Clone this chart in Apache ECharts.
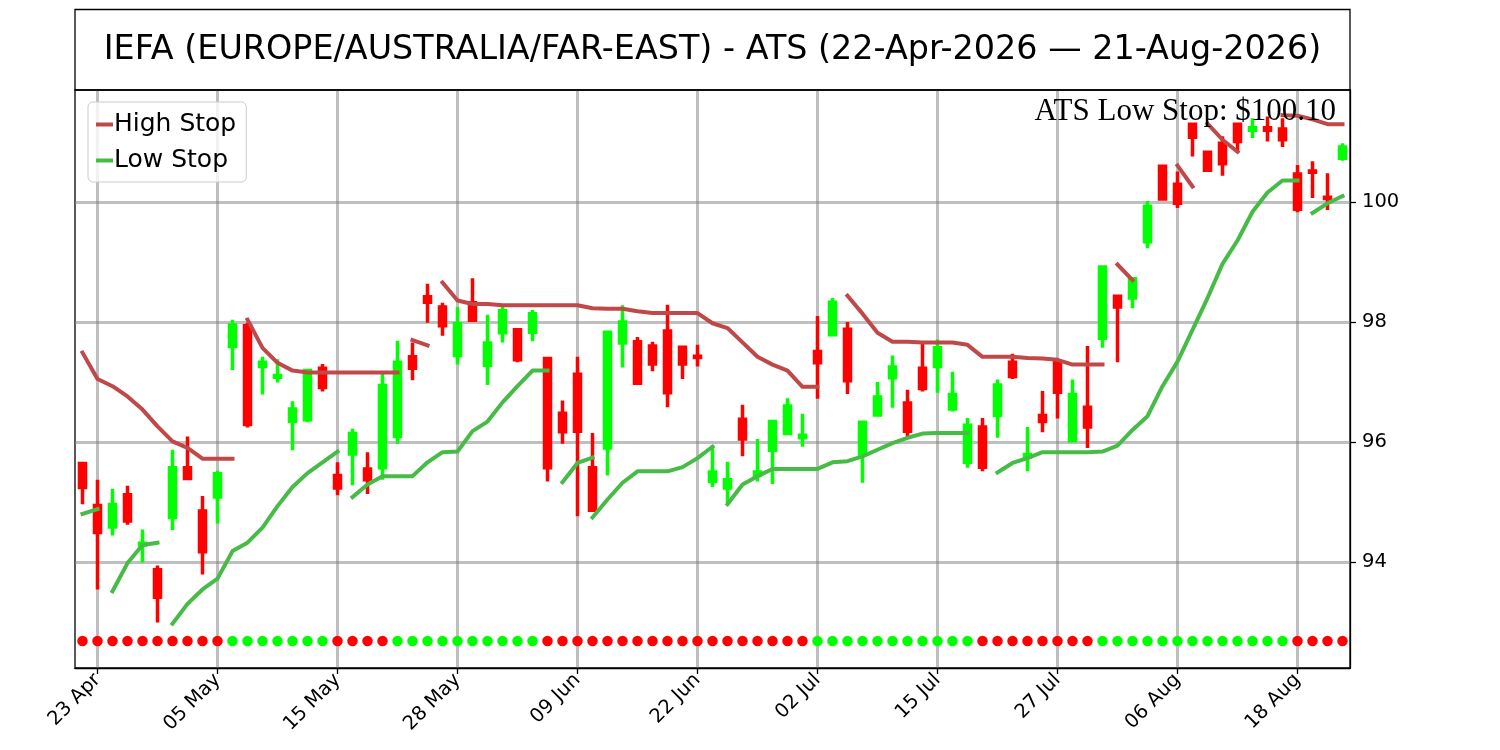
<!DOCTYPE html>
<html>
<head>
<meta charset="utf-8">
<script src="https://cdn.jsdelivr.net/npm/echarts@6/dist/echarts.min.js"></script>
<style>
html,body{margin:0;padding:0;background:#fff;}
#chart{width:1500px;height:750px;}
</style>
</head>
<body>
<div id="chart"></div>
<script>
const categories = ['22 Apr','23 Apr','24 Apr','27 Apr','28 Apr','29 Apr','30 Apr',
'01 May','04 May','05 May','06 May','07 May','08 May','11 May','12 May','13 May','14 May','15 May','18 May','19 May','20 May','21 May','22 May','26 May','27 May','28 May','29 May',
'01 Jun','02 Jun','03 Jun','04 Jun','05 Jun','08 Jun','09 Jun','10 Jun','11 Jun','12 Jun','15 Jun','16 Jun','17 Jun','18 Jun','22 Jun','23 Jun','24 Jun','25 Jun','26 Jun','29 Jun','30 Jun',
'01 Jul','02 Jul','06 Jul','07 Jul','08 Jul','09 Jul','10 Jul','13 Jul','14 Jul','15 Jul','16 Jul','17 Jul','20 Jul','21 Jul','22 Jul','23 Jul','24 Jul','27 Jul','28 Jul','29 Jul','30 Jul','31 Jul',
'03 Aug','04 Aug','05 Aug','06 Aug','07 Aug','10 Aug','11 Aug','12 Aug','13 Aug','14 Aug','17 Aug','18 Aug','19 Aug','20 Aug','21 Aug'];

const xTickLabels = ['23 Apr','05 May','15 May','28 May','09 Jun','22 Jun','02 Jul','15 Jul','27 Jul','06 Aug','18 Aug'];
const yTickValues = [94, 96, 98, 100];

const opens = [95.64,94.94,94.58,95.12,94.28,93.87,94.74,95.57,94.85,95.08,
97.59,97.94,97.26,97.08,96.34,96.37,97.23,95.44,95.80,95.55,
95.57,96.09,97.42,98.42,98.25,97.44,98.32,97.28,97.82,97.87,
97.83,97.39,96.48,97.13,95.57,95.90,97.65,97.67,97.60,97.85,
97.58,97.43,95.34,95.23,96.38,95.44,95.86,96.14,96.07,97.51,
97.79,97.88,95.80,96.45,97.07,96.65,97.23,97.26,96.55,95.66,
96.25,96.44,97.33,95.75,96.44,97.32,96.02,96.58,97.73,98.43,
98.40,99.34,100.60,100.30,101.30,100.83,100.98,101.30,101.20,101.24,
101.22,100.47,100.52,100.08,100.73];
const closes = [95.24,94.49,94.955,94.68,94.31,93.41,95.57,95.39,94.17,95.47,
97.95,96.29,97.33,97.11,96.55,97.19,96.91,95.23,96.14,95.37,
96.94,97.33,97.23,98.33,97.94,97.97,98.03,97.65,98.19,97.37,
98.14,95.57,96.17,96.18,94.86,97.83,98.00,96.98,97.30,96.82,
97.30,97.41,95.50,95.37,96.05,95.50,96.34,96.60,96.11,97.32,
98.33,97.02,96.33,96.75,97.25,96.18,96.89,97.57,96.79,96.28,
95.58,96.95,97.09,95.79,96.34,96.83,96.79,96.25,98.92,98.25,
98.72,99.93,100.05,99.98,101.08,100.53,100.64,101.01,101.24,101.20,
101.04,99.88,100.50,100.06,100.92];
const lows = [94.96,93.54,94.44,94.62,93.99,92.99,94.53,95.37,93.79,94.64,
97.20,96.24,96.79,96.99,95.86,96.33,96.84,95.11,95.28,95.13,
95.37,95.97,97.03,97.99,97.77,97.29,98.02,96.95,97.66,97.33,
97.68,95.34,95.97,94.76,94.84,95.44,97.24,96.97,97.18,96.58,
97.05,97.26,95.25,94.98,95.76,95.34,95.30,96.11,95.92,96.72,
97.78,96.80,95.32,96.45,96.57,96.07,96.84,96.82,96.51,95.57,
95.51,96.07,97.05,95.51,96.16,96.39,96.01,95.90,97.57,97.33,
98.23,99.23,100.04,99.90,100.76,100.52,100.44,100.82,101.07,101.01,
100.92,99.83,100.07,99.87,100.69];
const highs = [95.65,95.37,95.22,95.27,94.54,93.94,95.87,96.09,95.10,95.52,
98.04,97.99,97.42,97.38,96.68,97.20,97.30,95.66,96.22,95.83,
97.15,97.69,97.66,98.64,98.32,98.25,98.73,98.12,98.29,97.88,
98.20,97.40,96.69,97.42,96.15,97.86,98.28,97.75,97.67,98.29,
97.60,97.62,95.95,95.67,96.62,96.05,96.35,96.73,96.47,98.10,
98.40,98.00,96.35,97.00,97.44,96.87,97.65,97.71,97.17,96.40,
96.40,97.04,97.47,96.25,96.85,97.34,97.04,97.60,98.94,98.45,
98.75,100.02,100.61,100.51,101.31,100.85,101.10,101.33,101.40,101.43,
101.40,100.62,100.68,100.48,100.98];

// 1 = up trend (green dot), -1 = down trend (red dot)
const trend = [-1,-1,-1,-1,-1,-1,-1,-1,-1,-1,
1,1,1,1,1,1,1,
-1,-1,-1,-1,
1,1,1,1,1,1,1,1,1,1,
-1,-1,-1,-1,-1,-1,-1,-1,-1,-1,-1,-1,-1,-1,-1,-1,-1,-1,
1,1,1,1,1,1,1,1,1,1,1,
-1,-1,-1,-1,-1,-1,-1,-1,
1,1,1,1,1,1,1,1,1,1,1,1,1,
-1,-1,-1,-1];
const trendDotLevel = 92.68;

const highStopSegments = [
  ['22 Apr', [97.49,97.05,96.93,96.76,96.54,96.26,96.01,95.90,95.72,95.72,95.72]],
  ['07 May', [98.04,97.57,97.32,97.19,97.16,97.16,97.16,97.16,97.16,97.16,97.16]],
  ['22 May', [97.70,97.61]],
  ['27 May', [98.66,98.36,98.30,98.30,98.28,98.28,98.28,98.28,98.28,98.28,98.23,98.22,98.22,98.18,98.15,98.15,98.15,98.15,97.98,97.90,97.66,97.42,97.29,97.19,96.92,96.92]],
  ['07 Jul', [98.44,98.14,97.82,97.67,97.67,97.66,97.66,97.66,97.62,97.42,97.42,97.42,97.40,97.39,97.37,97.29,97.29,97.29]],
  ['31 Jul', [98.96,98.70]],
  ['06 Aug', [100.61,100.26]],
  ['10 Aug', [101.31,101.04,100.84]],
  ['17 Aug', [101.45,101.44,101.38,101.30,101.30]]
];
const lowStopSegments = [
  ['22 Apr', [94.80,94.88]],
  ['24 Apr', [93.51,93.98,94.28,94.32]],
  ['30 Apr', [92.97,93.30,93.54,93.72,94.18,94.32,94.57,94.93,95.25,95.48,95.66,95.84]],
  ['18 May', [95.08,95.29,95.43,95.43,95.43,95.66,95.83,95.84,96.18,96.34,96.66,96.93,97.19,97.19]],
  ['08 Jun', [95.33,95.65,95.74]],
  ['10 Jun', [94.74,95.04,95.32,95.51,95.51,95.51,95.58,95.73,95.92]],
  ['24 Jun', [94.96,95.29,95.43,95.55,95.55,95.55,95.55,95.66,95.68,95.76,95.87,95.98,96.07,96.14,96.15,96.15,96.15]],
  ['21 Jul', [95.49,95.65,95.73,95.83,95.83,95.83,95.83,95.84,95.94,96.20,96.43,96.93,97.34,97.87,98.40,98.97,99.36,99.84,100.16,100.36,100.36]],
  ['19 Aug', [99.82,99.98,100.10]]
];

const titleText = 'IEFA (EUROPE/AUSTRALIA/FAR-EAST) - ATS (22-Apr-2026 \u2014 21-Aug-2026)';
const annotationText = 'ATS Low Stop: $100.10';

const UP = '#00ff00', DOWN = '#ff0000';
const HIGH_COLOR = '#c04848', LOW_COLOR = '#46bb46';
const GRID_COLOR = 'rgba(128,128,128,0.5)';

function segData(segs) {
  const out = [];
  segs.forEach(function (seg, k) {
    const s = categories.indexOf(seg[0]);
    if (k > 0) out.push([s, '-']);
    seg[1].forEach(function (v, j) { out.push([s + j, v]); });
  });
  return out;
}

const candleData = categories.map(function (c, i) {
  return [opens[i], closes[i], lows[i], highs[i]];
});
const dotData = categories.map(function (c, i) {
  return { value: [i, trendDotLevel], itemStyle: { color: trend[i] > 0 ? UP : DOWN, opacity: 1 } };
});
const isTick = function (idx, val) { return xTickLabels.indexOf(val) >= 0; };

const chart = echarts.init(document.getElementById('chart'), null, { renderer: 'canvas' });
chart.setOption({
  animation: false,
  backgroundColor: '#fff',
  textStyle: { fontFamily: 'DejaVu Sans' },
  graphic: [
    { type: 'rect', shape: { x: 75, y: 9.5, width: 1275, height: 80.5 },
      style: { fill: 'none', stroke: '#000', lineWidth: 1.3 }, z: 10 },
    { type: 'text', x: 712.5, y: 50,
      style: { text: titleText, fill: '#000', font: '33.4px "DejaVu Sans"', align: 'center', verticalAlign: 'middle', textAlign: 'center', textVerticalAlign: 'middle' }, z: 10 },
    { type: 'text', x: 1336, y: 112,
      style: { text: annotationText, fill: '#000', font: '31px "Liberation Serif"', align: 'right', verticalAlign: 'middle', textAlign: 'right', textVerticalAlign: 'middle' }, z: 10 }
  ],
  legend: {
    data: ['High Stop', 'Low Stop'],
    orient: 'vertical',
    left: 88, top: 102,
    icon: 'rect',
    itemWidth: 17, itemHeight: 4,
    itemGap: 11,
    padding: [10, 10, 9, 8],
    backgroundColor: 'rgba(255,255,255,0.8)',
    borderColor: '#cccccc', borderWidth: 1, borderRadius: 5,
    textStyle: { fontSize: 25, lineHeight: 25, color: '#000', fontFamily: 'DejaVu Sans', padding: [0, 0, 0, -4] },
    z: 20
  },
  grid: {
    left: 75, right: 150, top: 90, bottom: 82,
    show: true, borderColor: '#000', borderWidth: 1.3, backgroundColor: 'transparent'
  },
  xAxis: {
    type: 'category',
    data: categories,
    boundaryGap: true,
    axisLine: { show: true, lineStyle: { color: '#000', width: 1.3 } },
    axisTick: { show: true, alignWithLabel: true, interval: isTick, length: 6, lineStyle: { color: '#000', width: 1.3 } },
    axisLabel: { show: true, interval: isTick, rotate: 45, fontSize: 19.5, color: '#000', fontFamily: 'DejaVu Sans', margin: 9 },
    splitLine: { show: true, interval: isTick, alignWithLabel: true, lineStyle: { color: GRID_COLOR, width: 3 } }
  },
  yAxis: {
    type: 'value',
    position: 'right',
    min: 92.23, max: 101.87,
    axisLine: { show: true, lineStyle: { color: '#000', width: 1.3 } },
    axisTick: { show: true, customValues: yTickValues, length: 6, lineStyle: { color: '#000', width: 1.3 } },
    axisLabel: { show: true, customValues: yTickValues, fontSize: 19.5, color: '#000', fontFamily: 'DejaVu Sans', margin: 12 },
    splitLine: { show: true, lineStyle: { color: GRID_COLOR, width: 3 } }
  },
  series: [
    {
      name: 'Trend', type: 'scatter', data: dotData, symbolSize: 10.5, z: 2, silent: true,
      itemStyle: { opacity: 1 }
    },
    {
      name: 'IEFA', type: 'candlestick', data: candleData, barWidth: 7, z: 3,
      itemStyle: { color: UP, color0: DOWN, borderColor: UP, borderColor0: DOWN, borderWidth: 3.5 }
    },
    {
      name: 'High Stop', type: 'line', data: segData(highStopSegments), connectNulls: false,
      symbol: 'none', showSymbol: false, color: HIGH_COLOR, itemStyle: { color: HIGH_COLOR },
      lineStyle: { color: HIGH_COLOR, width: 4, cap: 'square', join: 'round' }, z: 4
    },
    {
      name: 'Low Stop', type: 'line', data: segData(lowStopSegments), connectNulls: false,
      symbol: 'none', showSymbol: false, color: LOW_COLOR, itemStyle: { color: LOW_COLOR },
      lineStyle: { color: LOW_COLOR, width: 4, cap: 'square', join: 'round' }, z: 4
    }
  ]
});
</script>
</body>
</html>
